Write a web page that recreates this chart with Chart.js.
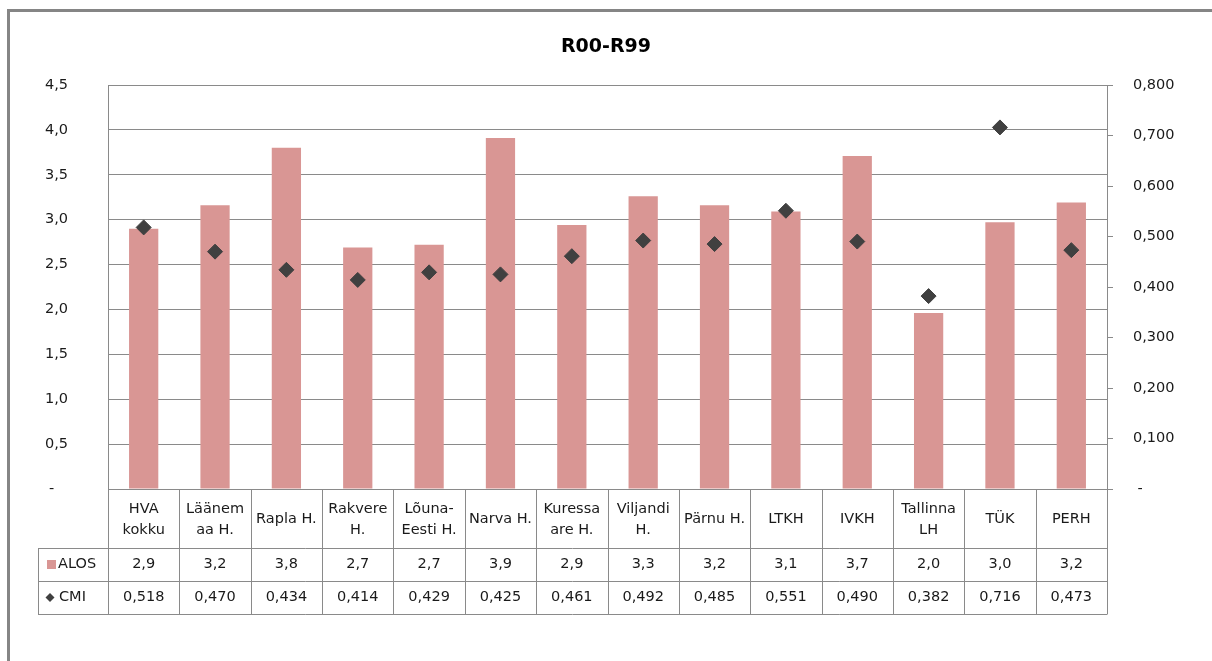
<!DOCTYPE html>
<html><head><meta charset="utf-8">
<script src="https://cdn.jsdelivr.net/npm/chart.js@4/dist/chart.umd.min.js"></script>
<style>html,body{margin:0;padding:0;background:#fff}canvas{display:block}</style>
</head><body>
<canvas id="c" width="1212" height="661"></canvas>
<script>
const chartTitle = 'R00-R99';
const categories = [["HVA","kokku"],["Läänem","aa H."],["Rapla H."],["Rakvere","H."],["Lõuna-","Eesti H."],["Narva H."],["Kuressa","are H."],["Viljandi","H."],["Pärnu H."],["LTKH"],["IVKH"],["Tallinna","LH"],["TÜK"],["PERH"]];
const seriesNames = ['ALOS', 'CMI'];
const alos = [2.90, 3.16, 3.80, 2.69, 2.72, 3.91, 2.94, 3.26, 3.16, 3.09, 3.71, 1.96, 2.97, 3.19];
const cmi = [0.518, 0.470, 0.434, 0.414, 0.429, 0.425, 0.461, 0.492, 0.485, 0.551, 0.490, 0.382, 0.716, 0.473];
const leftTickLabels = ['-   ', '0,5', '1,0', '1,5', '2,0', '2,5', '3,0', '3,5', '4,0', '4,5'];
const rightTickLabels = [' -', '0,100', '0,200', '0,300', '0,400', '0,500', '0,600', '0,700', '0,800'];

const FONT = '"DejaVu Sans", "Liberation Sans", sans-serif';
const GRID = '#8a8a8a';
const TEXT = '#1a1a1a';
const BAR = '#d99694';
const MARK = '#404040';

Chart.defaults.font.family = FONT;
Chart.defaults.color = TEXT;

function fmt(v, d) { return v.toFixed(d).replace('.', ','); }

const framePlugin = {
  id: 'frame',
  beforeDraw(chart) {
    const c = chart.ctx;
    c.save();
    c.fillStyle = '#fff';
    c.fillRect(0, 0, chart.width, chart.height);
    c.strokeStyle = '#858585';
    c.lineWidth = 3;
    c.strokeRect(8.5, 10.5, chart.width + 20, chart.height + 20);
    c.restore();
  }
};

function diamond(c, x, y, r) {
  c.beginPath();
  c.moveTo(x, y - r); c.lineTo(x + r, y); c.lineTo(x, y + r); c.lineTo(x - r, y);
  c.closePath(); c.fill();
}

const tablePlugin = {
  id: 'dataTable',
  afterDraw(chart) {
    const c = chart.ctx, xs = chart.scales.x, a = chart.chartArea;
    const n = categories.length;
    const step = (a.right - a.left) / n;
    const y0 = a.bottom, y1 = y0 + 59, y2 = y1 + 33, y3 = y2 + 33;
    const xl = 38;
    c.save();
    c.strokeStyle = GRID; c.lineWidth = 1;
    const hl = (x1, x2, y) => { c.beginPath(); c.moveTo(x1, Math.round(y) + 0.5); c.lineTo(x2, Math.round(y) + 0.5); c.stroke(); };
    const vl = (x, ya, yb) => { c.beginPath(); c.moveTo(Math.round(x) + 0.5, ya); c.lineTo(Math.round(x) + 0.5, yb); c.stroke(); };
    hl(xl, a.right, y1); hl(xl, a.right, y2); hl(xl, a.right, y3);
    vl(xl, y1, y3 + 0.5);
    for (let i = 0; i <= n; i++) vl(a.left + i * step, y0, y3 + 0.5);
    c.fillStyle = TEXT;
    c.font = '14.5px ' + FONT;
    c.textAlign = 'center'; c.textBaseline = 'middle';
    const lh = 21, mid = (y0 + y1) / 2;
    for (let i = 0; i < n; i++) {
      const cx = xs.getPixelForValue(i);
      const lines = categories[i];
      lines.forEach((t, k) => c.fillText(t, cx, mid + 1 + (k - (lines.length - 1) / 2) * lh));
      c.fillText(fmt(alos[i], 1), cx, (y1 + y2) / 2);
      c.fillText(fmt(cmi[i], 3), cx, (y2 + y3) / 2);
    }
    c.fillStyle = BAR;
    c.fillRect(47, Math.round((y1 + y2) / 2) - 5, 9, 9);
    c.fillStyle = MARK;
    diamond(c, 50, (y2 + y3) / 2, 4.5);
    c.fillStyle = TEXT;
    c.textAlign = 'left';
    c.fillText(seriesNames[0], 58, (y1 + y2) / 2);
    c.fillText(seriesNames[1], 59, (y2 + y3) / 2);
    c.restore();
  }
};

new Chart(document.getElementById('c'), {
  data: {
    labels: categories,
    datasets: [
      {
        type: 'line', label: seriesNames[1], data: cmi, yAxisID: 'y1', order: 0,
        showLine: false, pointStyle: 'rectRot', pointRadius: 7.5, pointHoverRadius: 7.5,
        pointBackgroundColor: MARK, pointBorderColor: MARK, pointBorderWidth: 1
      },
      {
        type: 'bar', label: seriesNames[0], data: alos, yAxisID: 'y', order: 1,
        backgroundColor: BAR, borderWidth: 0, barPercentage: 0.41, categoryPercentage: 1.0
      }
    ]
  },
  options: {
    responsive: false, animation: false, devicePixelRatio: 1,
    layout: { padding: { left: 0, right: 0, top: 0, bottom: 172 } },
    plugins: {
      legend: { display: false }, tooltip: { enabled: false },
      title: {
        display: true, text: chartTitle, color: '#000',
        font: { family: FONT, size: 19, weight: 'bold', lineHeight: 1.2 },
        padding: { top: 36, bottom: 26.2 }
      }
    },
    scales: {
      x: { display: false, offset: true },
      y: {
        position: 'left', min: 0, max: 4.5,
        afterFit(s) { s.width = 108; },
        ticks: { stepSize: 0.5, padding: 40, font: { size: 14.5 }, color: TEXT,
                 callback: (v, i) => leftTickLabels[i] },
        grid: { color: GRID, lineWidth: 1, drawTicks: false },
        border: { display: true, color: GRID, width: 1 }
      },
      y1: {
        position: 'right', min: 0, max: 0.8,
        afterFit(s) { s.width = 105; },
        ticks: { stepSize: 0.1, padding: 20, font: { size: 14.5 }, color: TEXT,
                 callback: (v, i) => rightTickLabels[i] },
        grid: { drawOnChartArea: false, drawTicks: true, tickLength: 6, color: GRID },
        border: { display: true, color: GRID, width: 1 }
      }
    }
  },
  plugins: [framePlugin, tablePlugin]
});
</script>
</body></html>
